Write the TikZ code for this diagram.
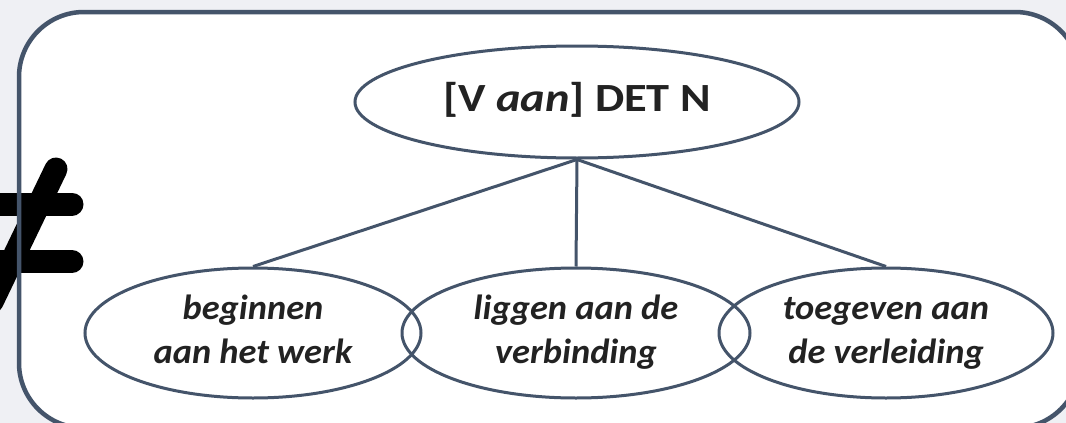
\documentclass[tikz,border=0pt]{standalone}
\usepackage{fontspec}
\setmainfont{Carlito}
\usetikzlibrary{shapes.geometric}
\definecolor{bg}{HTML}{EFF0F4}
\definecolor{slate}{HTML}{44546A}
\definecolor{txt}{HTML}{222222}
\newcommand{\wideline}[2]{\scalebox{#1}[1]{\begin{tabular}{@{}c@{}}#2\end{tabular}}}
\tikzset{
  ell/.style={ellipse, draw=slate, line width=3pt, inner sep=0pt, text=txt, align=center},
  conn/.style={draw=slate, line width=3pt},
  neq/.style={line width=23pt, line cap=round, draw=black},
  lowfont/.style={font=\fontsize{35}{44}\selectfont\bfseries\itshape}
}
\begin{document}
\begin{tikzpicture}[x=1pt,y=-1pt]
\useasboundingbox (0,0) rectangle (1066,423);
\clip (0,0) rectangle (1066,423);
\fill[bg] (0,0) rectangle (1066,423);
\fill[white, rounded corners=65pt] (19,12) rectangle (1080,428);
% not-equal sign
\draw[neq] (-30,204) -- (72,204);
\draw[neq] (-30,261.5) -- (72,261.5);
\draw[neq] (56,169) -- (-8,302);
\draw[slate, line width=4.5pt, rounded corners=65pt] (19,12) rectangle (1080,428);
% nodes
\node[ell, minimum width=444pt, minimum height=112pt, font=\fontsize{40}{48}\selectfont\bfseries] (top) at (577,102) {\wideline{1.16}{[V \textit{aan}] DET N}};
\node[ell, minimum width=336pt, minimum height=130pt, lowfont] (l) at (253,333) {\wideline{1.04}{beginnen\\aan het werk}};
\node[ell, minimum width=348pt, minimum height=130pt, lowfont] (m) at (576,333) {\wideline{1.04}{liggen aan de\\verbinding}};
\node[ell, minimum width=334pt, minimum height=130pt, lowfont] (r) at (886,333) {\wideline{1.04}{toegeven aan\\de verleiding}};
\draw[conn] (top.south) -- (l.north);
\draw[conn] (top.south) -- (m.north);
\draw[conn] (top.south) -- (r.north);
\end{tikzpicture}
\end{document}
